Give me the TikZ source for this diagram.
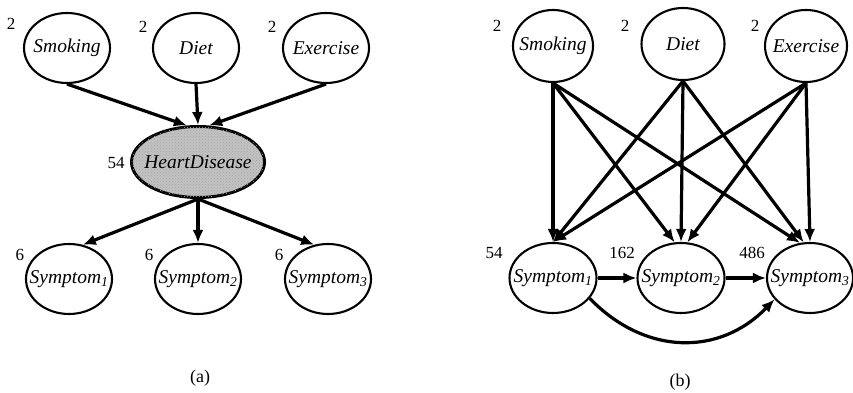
\documentclass[tikz,border=0pt]{standalone}
\usepackage{fontspec}
\setmainfont{Liberation Serif}
\usetikzlibrary{shapes.geometric,arrows.meta,patterns}
% variable name, kept from widening its ellipse
\newcommand\varname[1]{\makebox[0pt]{#1}}
\begin{document}
\begin{tikzpicture}[x=1pt,y=1pt,
  var/.style={ellipse,draw,line width=2.1pt,inner sep=0pt,
    minimum width=86pt,minimum height=70pt,
    font=\fontsize{19.5}{22}\selectfont\itshape},
  hidden/.style={var,line width=3pt,fill=gray!48,
    postaction={pattern=crosshatch dots,pattern color=black!35},
    minimum width=133pt,minimum height=71pt},
  card/.style={font=\fontsize{17}{19}\selectfont,inner sep=0pt},
  edge/.style={line width=3.2pt,-{Latex[length=13pt,width=11pt]}},
  caption/.style={font=\fontsize{18}{20}\selectfont,inner sep=0pt}]
\useasboundingbox (0,0) rectangle (853,393);

% ---------- (a) model with a hidden variable ----------
\node[var] (smkA) at (67,345) {\varname{Smoking}};
\node[var] (dietA) at (196,345) {\varname{Diet}};
\node[var] (exeA) at (326,345) {\varname{Exercise}};
\node[hidden] (hd) at (198,231) {\varname{HeartDisease}};
\node[var] (s1A) at (69,114) {\varname{Symptom\textsubscript{1}}};
\node[var] (s2A) at (198,114) {\varname{Symptom\textsubscript{2}}};
\node[var] (s3A) at (328,114) {\varname{Symptom\textsubscript{3}}};

\node[card] (cSmkA) at (11,369) {2};
\node[card] (cDietA) at (143,366) {2};
\node[card] (cExeA) at (272,366) {2};
\node[card] (cHd) at (116,230) {54};
\node[card] (cS1A) at (20,138) {6};
\node[card] (cS2A) at (149,138) {6};
\node[card] (cS3A) at (279,138) {6};

\draw[edge] (smkA.south) -- (hd.107);
\draw[edge] (dietA.south) -- (hd.north);
\draw[edge] (exeA.south) -- (hd.73);
\draw[edge] (hd.south) -- (s1A.68);
\draw[edge] (hd.south) -- (s2A.north);
\draw[edge] (hd.south) -- (s3A.112);

\node[caption] (capA) at (200,15) {(a)};

% ---------- (b) same model without the hidden variable ----------
\node[var,minimum width=80pt,minimum height=72pt] (smkB) at (553,347) {\varname{Smoking}};
\node[var,minimum width=83pt,minimum height=72pt] (dietB) at (683,349) {\varname{Diet}};
\node[var,minimum width=82pt,minimum height=72pt] (exeB) at (806,347) {\varname{Exercise}};
\node[var,minimum width=87pt,minimum height=70pt] (s1B) at (553,115) {\varname{Symptom\textsubscript{1}}};
\node[var,minimum width=87pt,minimum height=70pt] (s2B) at (681,115) {\varname{Symptom\textsubscript{2}}};
\node[var,minimum width=86pt,minimum height=70pt] (s3B) at (810,115) {\varname{Symptom\textsubscript{3}}};

\node[card] (cSmkB) at (497,367) {2};
\node[card] (cDietB) at (625,367) {2};
\node[card] (cExeB) at (755,367) {2};
\node[card] (cS1B) at (494,140) {54};
\node[card] (cS2B) at (622,140) {162};
\node[card] (cS3B) at (752,140) {486};

\foreach \p in {smkB,dietB,exeB}{
  \draw[edge] (\p.south) -- (s1B.north);
}
\draw[edge] (smkB.south) -- (s2B.100);
\draw[edge] (dietB.south) -- (s2B.north);
\draw[edge] (exeB.south) -- (s2B.80);
\draw[edge] (smkB.south) -- (s3B.106);
\draw[edge] (dietB.south) -- (s3B.100);
\draw[edge] (exeB.south) -- (s3B.north);

\draw[edge] (s1B.east) -- (s2B.west);
\draw[edge] (s2B.east) -- (s3B.west);
\draw[edge] (s1B.-29) .. controls +(55,-57) and +(-55,-57) .. (s3B.211);

\node[caption] (capB) at (680,11) {(b)};
\end{tikzpicture}
\end{document}
